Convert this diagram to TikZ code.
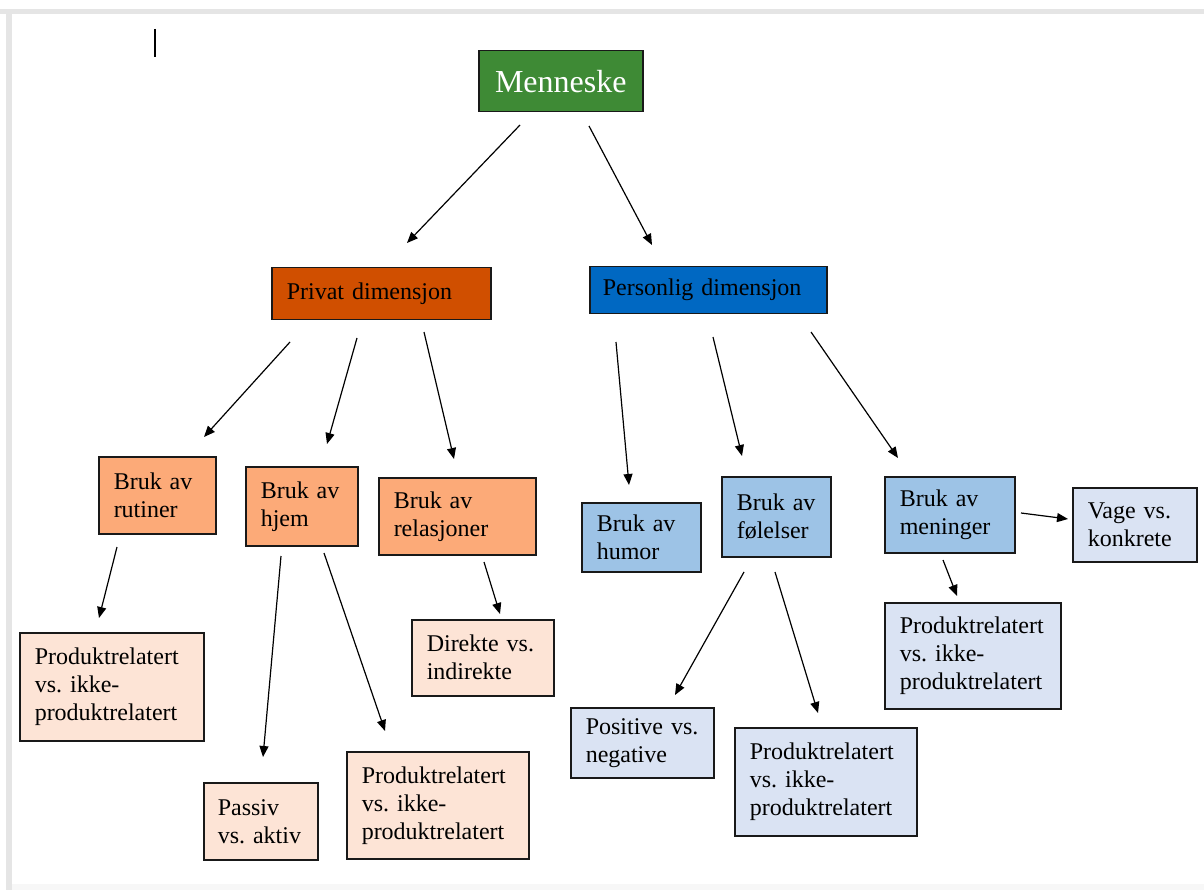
\documentclass[tikz,border=0pt]{standalone}
\usepackage{fontspec}
\setmainfont{Liberation Serif}
\usetikzlibrary{arrows.meta}
\definecolor{cgreen}{HTML}{3E8A35}
\definecolor{corange}{HTML}{D04F00}
\definecolor{cblue}{HTML}{0068C2}
\definecolor{clorange}{HTML}{FCAA78}
\definecolor{cpeach}{HTML}{FDE4D6}
\definecolor{clblue}{HTML}{9DC3E6}
\definecolor{cxblue}{HTML}{DAE3F3}
\begin{document}
\begin{tikzpicture}[x=1pt,y=-1pt,
  box/.style={draw=black!90, line width=1.5pt, anchor=north west, inner xsep=15pt, inner ysep=0pt,
    align=left, font=\fontsize{24}{28}\selectfont\frenchspacing},
  arr/.style={-{Triangle[length=11pt,width=9pt]}, line width=1.2pt, black}]
\useasboundingbox (0,0) rectangle (1204,890);
\fill[white] (0,0) rectangle (1204,890);
\fill[black!10] (0,9) rectangle (1204,14);
\fill[black!10] (6,9) rectangle (12,890);
\fill[black!3] (12,884) rectangle (1204,890);
\draw[line width=1.6pt] (155,29) -- (155,57);
% level 0
\node[box, fill=cgreen, text=white, align=center, text width=134pt, minimum height=61pt,
  font=\fontsize{32}{36}\selectfont] (men) at (478,50) {Menneske};
% level 1
\node[box, fill=corange, text width=189pt, minimum height=52pt] (pri) at (271,267) {Privat dimensjon};
\node[box, fill=cblue, text width=211pt, minimum height=47pt, inner xsep=13pt] (per) at (589,266) {Personlig dimensjon};
% level 2
\node[box, fill=clorange, text width=87pt, minimum height=77pt] (rut) at (98,456) {Bruk av\\rutiner};
\node[box, fill=clorange, text width=82pt, minimum height=79pt] (hje) at (245,466) {Bruk av\\hjem};
\node[box, fill=clorange, text width=127pt, minimum height=77pt] (rel) at (378,477) {Bruk av\\relasjoner};
\node[box, fill=clblue, text width=89pt, minimum height=69pt] (hum) at (581,502) {Bruk av\\humor};
\node[box, fill=clblue, text width=79pt, minimum height=80pt] (fol) at (721,476) {Bruk av\\følelser};
\node[box, fill=clblue, text width=100pt, minimum height=76pt] (men2) at (884,476) {Bruk av\\meninger};
\node[box, fill=cxblue, text width=94pt, minimum height=74pt] (vag) at (1072,487) {Vage vs.\\konkrete};
% level 3
\node[box, fill=cpeach, text width=154pt, minimum height=108pt] (pr1) at (19,632) {Produktrelatert\\vs. ikke-\\produktrelatert};
\node[box, fill=cpeach, text width=86pt, minimum height=77pt, inner xsep=14pt] (pas) at (203,782) {Passiv\\vs. aktiv};
\node[box, fill=cpeach, text width=152pt, minimum height=107pt] (pr2) at (346,751) {Produktrelatert\\vs. ikke-\\produktrelatert};
\node[box, fill=cpeach, text width=112pt, minimum height=76pt] (dir) at (411,619) {Direkte vs.\\indirekte};
\node[box, fill=cxblue, text width=113pt, minimum height=70pt] (pos) at (570,707) {Positive vs.\\negative};
\node[box, fill=cxblue, text width=152pt, minimum height=108pt] (pr3) at (734,727) {Produktrelatert\\vs. ikke-\\produktrelatert};
\node[box, fill=cxblue, text width=146pt, minimum height=106pt] (pr4) at (884,602) {Produktrelatert\\vs. ikke-\\produktrelatert};
% arrow end points
\coordinate (a1s) at (520,125); \coordinate (a1e) at (407,243);
\coordinate (a2s) at (589,126); \coordinate (a2e) at (652,245);
\coordinate (a3s) at (290,342); \coordinate (a3e) at (204,437);
\coordinate (a4s) at (357,338); \coordinate (a4e) at (327,444);
\coordinate (a5s) at (424,332); \coordinate (a5e) at (454,459);
\coordinate (a6s) at (616,342); \coordinate (a6e) at (629,485);
\coordinate (a7s) at (713,337); \coordinate (a7e) at (742,456);
\coordinate (a8s) at (811,332); \coordinate (a8e) at (898,458);
\coordinate (a9s) at (117,547); \coordinate (a9e) at (99,618);
\coordinate (a10s) at (281,556); \coordinate (a10e) at (263,757);
\coordinate (a11s) at (324,553); \coordinate (a11e) at (385,731);
\coordinate (a12s) at (484,562); \coordinate (a12e) at (500,614);
\coordinate (a13s) at (744,572); \coordinate (a13e) at (675,695);
\coordinate (a14s) at (775,572); \coordinate (a14e) at (818,713);
\coordinate (a15s) at (1021,513); \coordinate (a15e) at (1068,519);
\coordinate (a16s) at (943,560); \coordinate (a16e) at (957,596);
\foreach \i in {1,...,16} \draw[arr] (a\i s) -- (a\i e);
\end{tikzpicture}
\end{document}
